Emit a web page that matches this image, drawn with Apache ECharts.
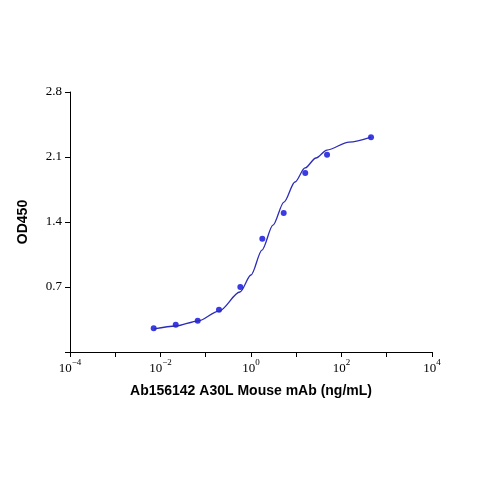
<!DOCTYPE html>
<html>
<head>
<meta charset="utf-8">
<script src="https://cdn.jsdelivr.net/npm/echarts@6/dist/echarts.min.js"></script>
<style>html,body{margin:0;padding:0;background:#fff}#c{width:479px;height:479px}</style>
</head>
<body>
<div id="c"></div>
<script>
// 数据点 (ng/mL, OD450)
var 浓度 = [0.00708, 0.0217, 0.0664, 0.196, 0.581, 1.78, 5.28, 15.8, 47.9, 449];
var 吸光度 = [0.255, 0.294, 0.337, 0.456, 0.700, 1.220, 1.497, 1.928, 2.125, 2.312];
// 拟合曲线
var 曲线x = [0.00718, 0.0220, 0.0675, 0.196, 0.571, 1.0, 1.75, 3.06, 5.35, 9.37, 15.6, 27.3, 47.8, 147, 449];
var 曲线y = [0.248, 0.280, 0.334, 0.441, 0.646, 0.829, 1.098, 1.367, 1.615, 1.831, 1.982, 2.089, 2.175, 2.261, 2.315];
var y刻度 = [0.7, 1.4, 2.1, 2.8];

function 指数标签(v) {
    var e = Math.round(Math.log10(v));
    if (e % 2 != 0) return '';
    return '{b|10}{s|' + (e < 0 ? '−' : '') + Math.abs(e) + '}';
}

var myChart = echarts.init(document.getElementById('c'));
var option = {
    animation: false,
    grid: { left: 70, right: 47, top: 92, bottom: 127 },
    xAxis: {
        type: 'log', logBase: 10, min: 1e-4, max: 1e4,
        name: 'Ab156142 A30L Mouse mAb (ng/mL)', nameLocation: 'middle', nameGap: 32,
        nameTextStyle: { fontFamily: 'Liberation Sans', fontWeight: 'bold', fontSize: 14, color: '#000' },
        axisLine: { lineStyle: { color: '#000', width: 1 } },
        axisTick: { show: true, length: 5, lineStyle: { color: '#000' } },
        axisLabel: {
            formatter: 指数标签, color: '#000', margin: 6,
            rich: {
                b: { fontFamily: 'Liberation Serif', fontSize: 13, color: '#000', verticalAlign: 'bottom' },
                s: { fontFamily: 'Liberation Serif', fontSize: 9, color: '#000', verticalAlign: 'top', padding: [0, 0, 8, 0] }
            }
        },
        splitLine: { show: false }
    },
    yAxis: {
        type: 'value', min: 0, max: 2.8, interval: 0.7,
        name: 'OD450', nameLocation: 'middle', nameGap: 40,
        nameTextStyle: { fontFamily: 'Liberation Sans', fontWeight: 'bold', fontSize: 14, color: '#000' },
        axisLine: { show: true, lineStyle: { color: '#000', width: 1 } },
        axisTick: { show: true, length: 5, lineStyle: { color: '#000' } },
        axisLabel: {
            fontFamily: 'Liberation Serif', fontSize: 13, color: '#000',
            formatter: function (v) { return y刻度.indexOf(Math.round(v * 10) / 10) >= 0 ? v.toFixed(1) : ''; }
        },
        splitLine: { show: false }
    },
    series: [{
        type: 'line', smooth: 0.3, smoothMonotone: 'x', symbol: 'none',
        data: 曲线x.map(function (x, i) { return [x, 曲线y[i]]; }),
        lineStyle: { color: '#2b2bb8', width: 1.3 }
    }, {
        type: 'scatter', symbolSize: 6,
        data: 浓度.map(function (x, i) { return [x, 吸光度[i]]; }),
        itemStyle: { color: '#0a0adc' }
    }]
};
myChart.setOption(option);
</script>
</body>
</html>
